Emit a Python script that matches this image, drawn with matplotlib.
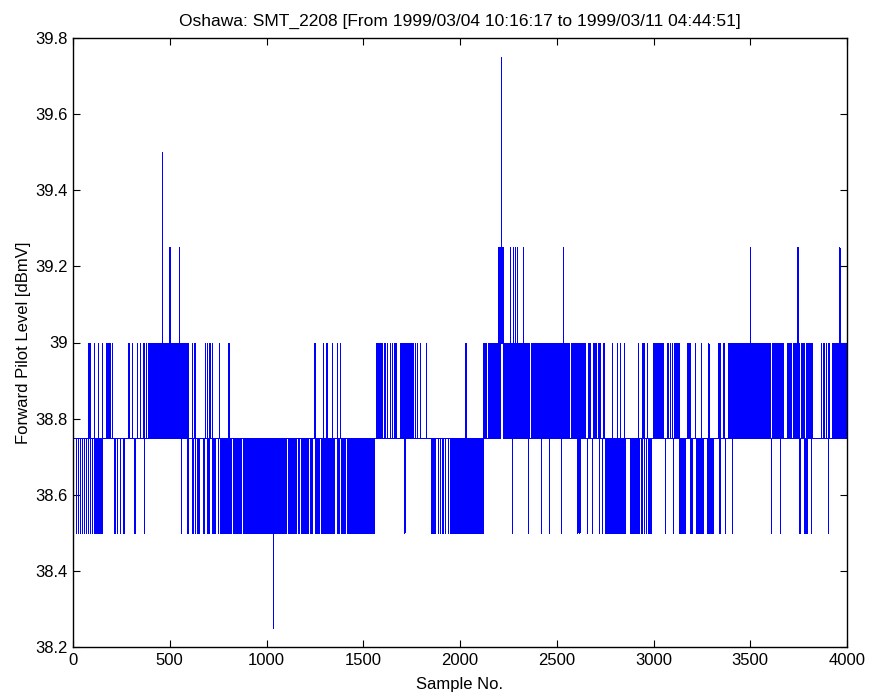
import numpy as np
import matplotlib
matplotlib.use("Agg")
import matplotlib.pyplot as plt
from matplotlib.ticker import FormatStrFormatter

plt.rcParams['font.family'] = ['Liberation Sans', 'DejaVu Sans']
plt.rcParams['path.simplify'] = False

# ---- data ----
n_samples = 4000
base_level = 38.75

# (start, end, level_a, level_b): sample ranges where the reading flickers between two levels
flicker = [
    (389, 596, 38.75, 39.0),
    (760, 1552, 38.75, 38.5),
    (1566, 1590, 38.75, 39.0),
    (1690, 1759, 38.75, 39.0),
    (1850, 1870, 38.75, 38.5),
    (1948, 2120, 38.75, 38.5),
    (2143, 2195, 38.75, 39.0),
    (2195, 2207, 38.75, 39.25),
    (2207, 2224, 39.0, 39.25),
    (2224, 2646, 38.75, 39.0),
    (2749, 2853, 38.75, 38.5),
    (2878, 2922, 38.75, 38.5),
    (2994, 3051, 38.75, 39.0),
    (3107, 3130, 38.75, 39.0),
    (3133, 3162, 38.75, 38.5),
    (3172, 3188, 38.75, 39.0),
    (3188, 3200, 38.75, 38.5),
    (3220, 3257, 38.75, 38.5),
    (3275, 3306, 38.75, 38.5),
    (3386, 3817, 38.75, 39.0),
    (3929, 4000, 38.75, 39.0),
]

# spans inside the flicker ranges where the level sits at the base value
quiet = [
    (816, 824), (826, 833), (850, 858), (868, 876), (971, 979), (984, 991),
    (1011, 1018), (1023, 1030), (1100, 1108), (1152, 1160), (1169, 1177),
    (1215, 1223), (1233, 1250), (1255, 1263), (1272, 1280), (1286, 1293),
    (1296, 1303), (1306, 1313), (1321, 1329), (1333, 1341), (1350, 1365),
    (1376, 1383), (1407, 1415),
    (2289, 2297), (2358, 2366), (2452, 2460), (2478, 2486), (2504, 2512),
    (2564, 2572), (2599, 2607),
    (3603, 3611), (3668, 3690), (3713, 3721), (3753, 3761), (3779, 3787),
]

low_samples = [
    16, 26, 36, 46, 56, 66, 76, 86, 96, 106, 116, 126, 136, 147,
    214, 226, 243, 260, 317, 367,
    558, 587, 592, 617, 631, 639, 647, 673, 675, 690, 699, 716, 725, 734, 748,
    1712, 1884, 1896, 1908, 1922, 1936, 1957, 1965,
    2267, 2350, 2417, 2460, 2520, 2606, 2616, 2655, 2680, 2718, 2732,
    2933, 2940, 2951, 2960, 2970, 2978, 2987, 3059, 3099, 3340, 3369, 3404,
    3607, 3654, 3754, 3780, 3789, 3814, 3900,
]

high_samples = [
    79, 88, 109, 127, 150, 169, 177, 188, 200, 286, 303, 329, 346, 363, 377,
    613, 627, 682, 692, 701, 708, 718, 754, 803,
    1247, 1290, 1310, 1337, 1362, 1380,
    1595, 1609, 1621, 1638, 1647, 1661, 1667, 1768, 1776, 1793, 1822,
    2026, 2030, 2120, 2130,
    2663, 2672, 2689, 2700, 2715, 2723, 2741, 2784, 2810, 2827, 2848,
    2918, 2939, 2947, 2965,
    3071, 3085, 3094, 3214, 3244, 3283, 3335, 3344, 3361,
    3865, 3877, 3889, 3903, 3920,
]

spikes = {
    458: 39.5, 498: 39.25, 548: 39.25, 1032: 38.25, 2212: 39.75,
    2258: 39.25, 2272: 39.25, 2284: 39.25, 2293: 39.25, 2324: 39.25,
    2531: 39.25, 3499: 39.25, 3740: 39.25, 3742: 39.25, 3745: 39.25,
    3747: 39.25, 3960: 39.25,
}

# ---- build the series ----
level = np.full(n_samples, base_level)
for a, b, la, lb in flicker:
    for k, i in enumerate(range(a, min(b, n_samples))):
        level[i] = lb if k % 2 else la
for a, b in quiet:
    level[a:b] = base_level
for i in low_samples:
    level[i] = 38.5
for i in high_samples:
    level[i] = 39.0
for i, v in spikes.items():
    level[i] = v

sample_no = np.arange(1, n_samples + 1)

fig = plt.figure(figsize=(8.69, 6.96), dpi=100)
ax = fig.add_axes([73 / 869, 1 - 647 / 696, (847 - 73) / 869, (647 - 38) / 696])
ax.plot(sample_no, level, color='#0000ff', lw=0.72, antialiased=False, snap=True)

ax.set_xlim(0, 4000)
ax.set_ylim(38.2, 39.8)
ax.set_xticks(np.arange(0, 4001, 500))
ax.set_yticks(np.arange(38.2, 39.81, 0.2))
ax.yaxis.set_major_formatter(FormatStrFormatter('%g'))
ax.tick_params(direction='in', top=True, right=True, length=5, width=0.8,
               labelsize=12, pad=4)
for s in ax.spines.values():
    s.set_linewidth(1.0)

ax.set_title('Oshawa: SMT_2208 [From 1999/03/04 10:16:17 to 1999/03/11 04:44:51]',
             fontsize=12.5, pad=9)
ax.set_xlabel('Sample No.', fontsize=12, labelpad=7)
ax.set_ylabel('Forward Pilot Level [dBmV]', fontsize=12, labelpad=3)

fig.savefig('out.png', dpi=100)
